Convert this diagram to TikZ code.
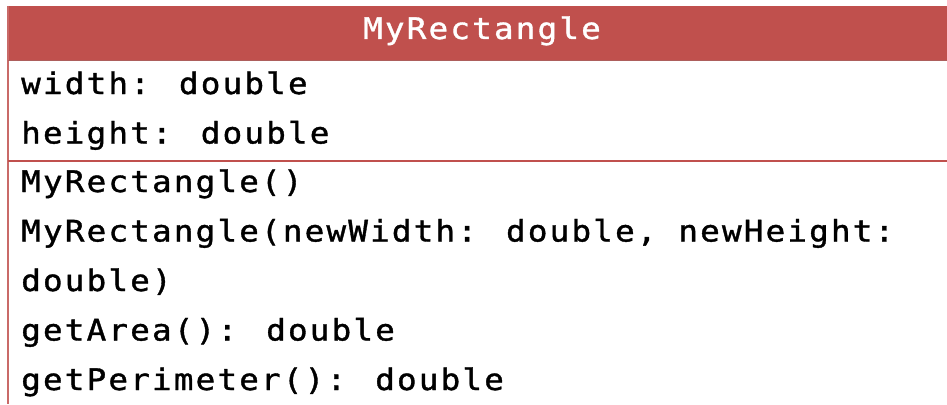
\documentclass[tikz,border=0pt]{standalone}
\usepackage{fontspec}
\newfontfamily\umlmono[FakeStretch=1.1,LetterSpace=7.2,FakeBold=1.2]{DejaVu Sans Mono}
\definecolor{umlred}{RGB}{192,80,77}
\begin{document}
\begin{tikzpicture}[x=1pt,y=-1pt,
	membre/.style={anchor=base west,inner sep=0pt,font=\umlmono\fontsize{29.7}{36}\selectfont}]
%					Cadre de l'image :
					\useasboundingbox (0,0) rectangle (947,404);
%					Bandeau du nom de classe :
					\fill[umlred] (7,6) rectangle (947,60);
					\node[membre,anchor=base,text=white] (nom) at (482,39) {MyRectangle};
%					Bords et séparateurs :
					\draw[umlred!85!white,line width=2.5pt] (8,6) -- (8,404);
					\draw[umlred!70!gray,line width=1.5pt] (8,60.5) -- (947,60.5);
					\draw[umlred,line width=2pt] (8,160.5) -- (947,160.5);
%					Attributs :
					\node[membre] (largeur) at (21,94) {width: double};
					\node[membre] (hauteur) at (21,143.5) {height: double};
%					Méthodes :
					\node[membre] (ctor) at (21,192) {MyRectangle()};
					\node[membre] (ctorArgs) at (21,241.5) {MyRectangle(newWidth: double, newHeight:};
					\node[membre] (ctorSuite) at (21,291) {double)};
					\node[membre] (aire) at (21,340.5) {getArea(): double};
					\node[membre] (perimetre) at (21,390) {getPerimeter(): double};
				\end{tikzpicture}
\end{document}
